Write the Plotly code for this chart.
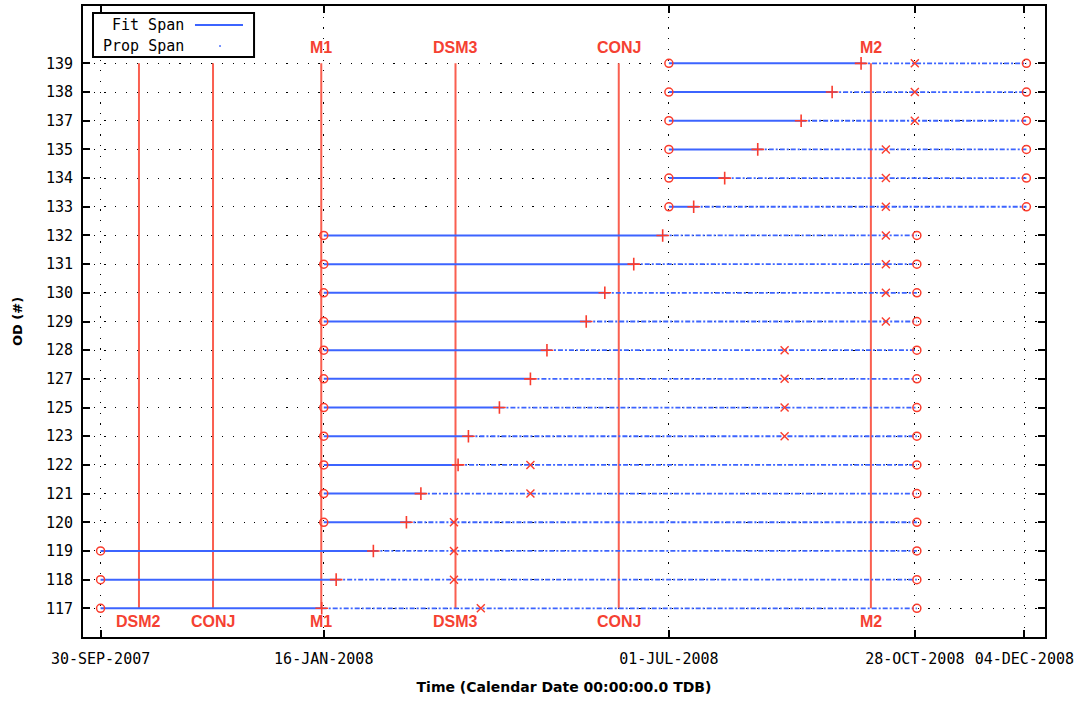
import plotly.graph_objects as go

# ---------------- data ----------------
od_labels = ["117", "118", "119", "120", "121", "122", "123", "125", "127", "128",
             "129", "130", "131", "132", "133", "134", "135", "137", "138", "139"]

fit_start = ["2007-09-30", "2007-09-30", "2007-09-30",
             "2008-01-16", "2008-01-16", "2008-01-16", "2008-01-16", "2008-01-16",
             "2008-01-16", "2008-01-16", "2008-01-16", "2008-01-16", "2008-01-16",
             "2008-01-16",
             "2008-07-01", "2008-07-01", "2008-07-01", "2008-07-01", "2008-07-01",
             "2008-07-01"]

fit_end = ["2008-01-15", "2008-01-22", "2008-02-09", "2008-02-25", "2008-03-03",
           "2008-03-21", "2008-03-26", "2008-04-10", "2008-04-25", "2008-05-03",
           "2008-05-22", "2008-05-31", "2008-06-14", "2008-06-28", "2008-07-13",
           "2008-07-28", "2008-08-13", "2008-09-03", "2008-09-18", "2008-10-02"]

x_mark = ["2008-04-01", "2008-03-19", "2008-03-19", "2008-03-19", "2008-04-25",
          "2008-04-25", "2008-08-26", "2008-08-26", "2008-08-26", "2008-08-26",
          "2008-10-14", "2008-10-14", "2008-10-14", "2008-10-14", "2008-10-14",
          "2008-10-14", "2008-10-14", "2008-10-28", "2008-10-28", "2008-10-28"]

prop_end = ["2008-10-29", "2008-10-29", "2008-10-29", "2008-10-29", "2008-10-29",
            "2008-10-29", "2008-10-29", "2008-10-29", "2008-10-29", "2008-10-29",
            "2008-10-29", "2008-10-29", "2008-10-29", "2008-10-29",
            "2008-12-21", "2008-12-21", "2008-12-21", "2008-12-21", "2008-12-21",
            "2008-12-21"]

event_names = ["DSM2", "CONJ", "M1", "DSM3", "CONJ", "M2"]
event_dates = ["2007-10-18 14:00", "2007-11-23 10:00", "2008-01-14 19:00",
               "2008-03-19 18:00", "2008-06-06 18:00", "2008-10-06 18:00"]
event_top_label = [False, False, True, True, True, True]

tick_dates = ["2007-09-30", "2008-01-16", "2008-07-01", "2008-10-28", "2008-12-20"]
tick_labels = ["30-SEP-2007", "16-JAN-2008", "01-JUL-2008", "28-OCT-2008", "04-DEC-2008"]

x_range = ["2007-09-21 12:00", "2008-12-30"]

# ---------------- styles ----------------
BLUE = "rgb(60,100,255)"
RED_LINE = "rgb(250,95,80)"
RED_MARK = "rgb(250,60,45)"
RED_TEXT = "rgb(245,65,50)"
MONO = "DejaVu Sans Mono"
BOLD = "Liberation Sans"
TITLE_FONT = "DejaVu Sans"

rows = list(range(len(od_labels)))
y_top = rows[-1]
y_bot = rows[0]

fig = go.Figure()

# event vertical lines
ev_x, ev_y = [], []
for d in event_dates:
    ev_x += [d, d, None]
    ev_y += [y_bot, y_top, None]
fig.add_trace(go.Scatter(x=ev_x, y=ev_y, mode="lines",
                         line=dict(color=RED_LINE, width=2),
                         hoverinfo="skip", showlegend=False))

# fit spans (solid) and propagation spans (dash-dot)
fx, fy, px, py = [], [], [], []
for i in rows:
    fx += [fit_start[i], fit_end[i], None]
    fy += [i, i, None]
    px += [fit_end[i], prop_end[i], None]
    py += [i, i, None]
fig.add_trace(go.Scatter(x=fx, y=fy, mode="lines", name="Fit Span",
                         line=dict(color=BLUE, width=2), showlegend=False))
fig.add_trace(go.Scatter(x=px, y=py, mode="lines", name="Prop Span",
                         line=dict(color=BLUE, width=1.8, dash="5px,2px,2px,2px"),
                         showlegend=False))

# markers
fig.add_trace(go.Scatter(x=fit_start + prop_end, y=rows + rows, mode="markers",
                         marker=dict(symbol="circle-open", size=8, color=RED_MARK,
                                     line=dict(width=1.5, color=RED_MARK)),
                         showlegend=False, hoverinfo="skip"))
fig.add_trace(go.Scatter(x=fit_end, y=rows, mode="markers",
                         marker=dict(symbol="cross-thin-open", size=9, color=RED_MARK,
                                     line=dict(width=1.6, color=RED_MARK)),
                         showlegend=False, hoverinfo="skip"))
fig.add_trace(go.Scatter(x=x_mark, y=rows, mode="markers",
                         marker=dict(symbol="x-thin-open", size=8, color=RED_MARK,
                                     line=dict(width=1.4, color=RED_MARK)),
                         showlegend=False, hoverinfo="skip"))

# event labels
annotations = []
for name, d, top in zip(event_names, event_dates, event_top_label):
    annotations.append(dict(x=d, y=y_bot - 0.46, xref="x", yref="y", text=name,
                            showarrow=False, xanchor="center", yanchor="middle",
                            font=dict(family=BOLD, size=16, color=RED_TEXT, weight="bold")))
    if top:
        annotations.append(dict(x=d, y=y_top + 0.55, xref="x", yref="y", text=name,
                                showarrow=False, xanchor="center", yanchor="middle",
                                font=dict(family=BOLD, size=16, color=RED_TEXT, weight="bold")))

# custom gnuplot-style key (text left, sample right)
annotations.append(dict(x=0.1075, y=0.9699, xref="paper", yref="paper", text="Fit Span",
                        showarrow=False, xanchor="right", yanchor="middle",
                        font=dict(family=MONO, size=15, color="black")))
annotations.append(dict(x=0.1075, y=0.9366, xref="paper", yref="paper", text="Prop Span",
                        showarrow=False, xanchor="right", yanchor="middle",
                        font=dict(family=MONO, size=15, color="black")))

shapes = [
    dict(type="rect", xref="paper", yref="paper", x0=0.0104, x1=0.1778, y0=0.9192, y1=0.9889,
         line=dict(color="black", width=2), fillcolor="white", layer="above"),
    dict(type="line", xref="paper", yref="paper", x0=0.1164, x1=0.1663, y0=0.9699, y1=0.9699,
         line=dict(color=BLUE, width=2), layer="above"),
    dict(type="circle", xref="paper", yref="paper", x0=0.1419, x1=0.1430, y0=0.9358, y1=0.9374,
         line=dict(color=BLUE, width=1), fillcolor=BLUE, layer="above"),
]

fig.update_layout(
    width=1082, height=702,
    margin=dict(l=83, r=37, t=6, b=65, autoexpand=False),
    paper_bgcolor="white", plot_bgcolor="white",
    showlegend=False,
    annotations=annotations,
    shapes=shapes,
)

fig.update_xaxes(
    type="date", range=x_range,
    tickvals=tick_dates, ticktext=tick_labels,
    tickfont=dict(family=MONO, size=15, color="black"),
    ticks="inside", ticklen=7, tickwidth=2, tickcolor="black",
    showline=True, linecolor="black", linewidth=2, mirror="ticks",
    showgrid=True, gridcolor="black", gridwidth=1.2, griddash="1.2px,9.5px",
    zeroline=False, ticklabelstandoff=7,
    title=dict(text="<b>Time (Calendar Date 00:00:00.0 TDB)</b>",
               font=dict(family=TITLE_FONT, size=14, color="black"), standoff=15),
    automargin=False,
)
fig.update_yaxes(
    range=[-1, 21],
    tickvals=rows, ticktext=od_labels,
    tickfont=dict(family=MONO, size=15, color="black"),
    ticks="inside", ticklen=7, tickwidth=2, tickcolor="black",
    showline=True, linecolor="black", linewidth=2, mirror="ticks",
    showgrid=True, gridcolor="black", gridwidth=1.2, griddash="1.2px,9.5px",
    zeroline=False, ticklabelstandoff=5,
    title=dict(text="<b>OD (#)</b>", font=dict(family=TITLE_FONT, size=13, color="black"),
               standoff=20),
    automargin=False,
)

fig.write_html("out.html",
               config={"displayModeBar": False},
               post_script="document.body.style.margin='0';document.body.style.padding='0';")
